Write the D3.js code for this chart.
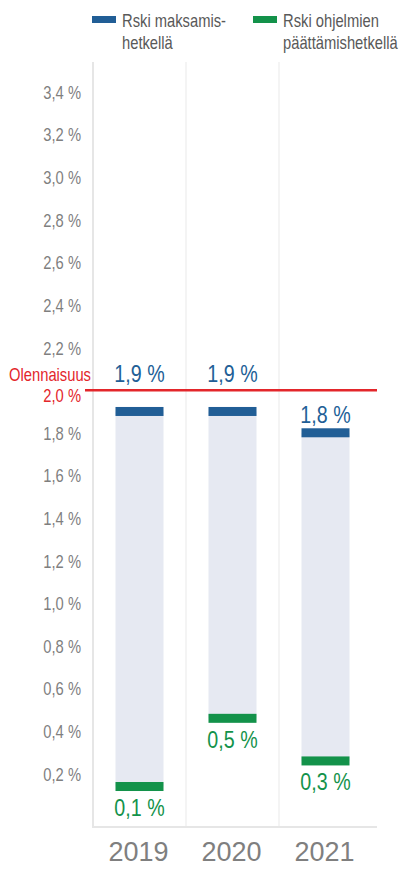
<!DOCTYPE html>
<html><head><meta charset="utf-8">
<script src="https://cdn.jsdelivr.net/npm/d3@7"></script>
<style>
html,body{margin:0;padding:0;background:#fff;}
svg{display:block;}
text{font-family:"Liberation Sans",Arial,sans-serif;}
</style></head>
<body>
<script>
const years = ["2019", "2020", "2021"];
const paymentRisk = [1.9, 1.9, 1.8];
const closureRisk = [0.14, 0.46, 0.26];
const yTicks = [0.2, 0.4, 0.6, 0.8, 1.0, 1.2, 1.4, 1.6, 1.8, 2.0, 2.2, 2.4, 2.6, 2.8, 3.0, 3.2, 3.4];
const materiality = 2.0;
const materialityLabel = "Olennaisuus";
const legendLabels = [["Rski maksamis-", "hetkellä"], ["Rski ohjelmien", "päättämishetkellä"]];

const W = 405, H = 869;
const SX = 0.82; // condensed look
const blue = "#215e96", green = "#13924a", red = "#e3262b", barFill = "#e6e9f2";
const svg = d3.select("body").append("svg").attr("width", W).attr("height", H);

function narrowText(parent, x, yy, str, size, fill, anchor) {
  return parent.append("text")
    .attr("transform", `translate(${x},${yy}) scale(${SX},1)`)
    .attr("x", 0).attr("y", 0)
    .attr("text-anchor", anchor || "start")
    .attr("font-size", size).attr("fill", fill).text(str);
}

const y = d3.scaleLinear().domain([-0.05, 3.54]).range([827, 62]);
const x = d3.scaleBand().domain(years).range([93, 372]);
const plotRight = 377;
const fmt = v => d3.format(".1f")(v).replace(".", ",") + " %";

// vertical gridlines
svg.append("g").selectAll("line").data(years.slice(1)).join("line")
  .attr("x1", d => x(d)).attr("x2", d => x(d))
  .attr("y1", y.range()[1]).attr("y2", y.range()[0])
  .attr("stroke", "#f1f1f1").attr("stroke-width", 1.5);
// left axis line & bottom line
svg.append("line").attr("x1", 93).attr("x2", 93).attr("y1", y.range()[1]).attr("y2", y.range()[0])
  .attr("stroke", "#e6e6e6").attr("stroke-width", 2);
svg.append("line").attr("x1", 92).attr("x2", plotRight).attr("y1", y.range()[0]).attr("y2", y.range()[0])
  .attr("stroke", "#e6e6e6").attr("stroke-width", 2);

// y tick labels
const yAxis = d3.axisLeft(y).tickValues(yTicks).tickSize(0).tickPadding(12).tickFormat(fmt);
const gy = svg.append("g").attr("transform", "translate(93,0)").call(yAxis);
gy.select(".domain").remove();
gy.selectAll("text").attr("font-size", 18).attr("fill", "#7f7f7f")
  .attr("font-family", '"Liberation Sans",Arial,sans-serif')
  .attr("dy", "0.36em")
  .attr("x", -12 / SX).attr("transform", `scale(${SX},1)`);
gy.selectAll(".tick").filter(d => d === materiality).select("text")
  .attr("fill", red).attr("dy", "0.64em");

// bars
const capH = 9, bw = 48;
const g = svg.append("g");
years.forEach((yr, i) => {
  const cx = x(yr) + x.bandwidth() / 2;
  const yTop = y(paymentRisk[i]), yBot = y(closureRisk[i]);
  g.append("rect").attr("x", cx - bw / 2).attr("width", bw)
    .attr("y", yTop).attr("height", yBot - yTop).attr("fill", barFill);
  g.append("rect").attr("x", cx - bw / 2).attr("width", bw)
    .attr("y", yTop - capH / 2).attr("height", capH).attr("fill", blue);
  g.append("rect").attr("x", cx - bw / 2).attr("width", bw)
    .attr("y", yBot - capH / 2).attr("height", capH).attr("fill", green);
  let by = yTop - capH / 2 - 5;
  if (by - 17 < y(materiality) + 2) by = y(materiality) - 8;
  narrowText(g, cx, by, fmt(paymentRisk[i]), 24, blue, "middle");
  narrowText(g, cx, yBot + capH / 2 + 25, fmt(closureRisk[i]), 24, green, "middle");
});

// materiality line
svg.append("line").attr("x1", 85).attr("x2", plotRight)
  .attr("y1", y(materiality)).attr("y2", y(materiality))
  .attr("stroke", red).attr("stroke-width", 2.5);
narrowText(svg, 91, y(materiality) - 9, materialityLabel, 18, red, "end");

// x labels
svg.append("g").selectAll("text").data(years).join("text")
  .attr("x", d => x(d) + x.bandwidth() / 2 - 1).attr("y", 861)
  .attr("text-anchor", "middle").attr("font-size", 27).attr("fill", "#7f7f7f")
  .attr("font-family", '"Open Sans",sans-serif').text(d => d);

// legend
const legX = [92, 253], legColors = [blue, green];
legendLabels.forEach((lines, i) => {
  svg.append("rect").attr("x", legX[i]).attr("y", 16).attr("width", 24).attr("height", 7).attr("fill", legColors[i]);
  const t = narrowText(svg, legX[i] + 30, 27, null, 18, "#595959", "start");
  lines.forEach((l, j) => t.append("tspan").attr("x", 0).attr("dy", j ? 22 : 0).text(l));
});
</script>
</body></html>
